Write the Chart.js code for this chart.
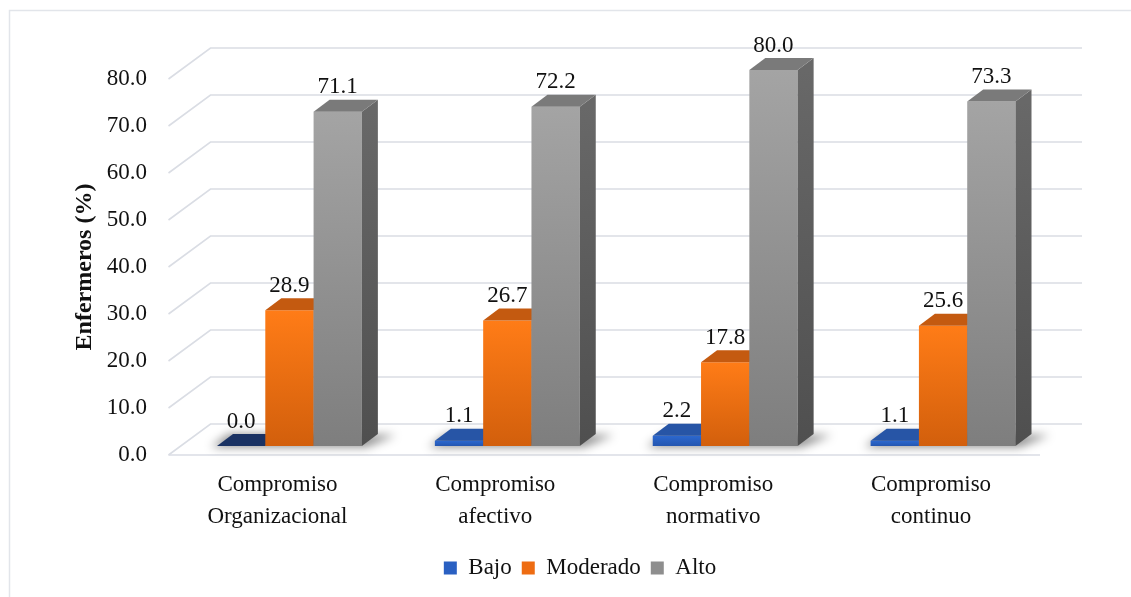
<!DOCTYPE html>
<html>
<head>
<meta charset="utf-8">
<script src="https://cdn.jsdelivr.net/npm/chart.js@4.4.1/dist/chart.umd.min.js"></script>
<style>
  html, body { margin: 0; padding: 0; background: #ffffff; }
  #wrap { width: 1131px; height: 597px; position: relative; }
</style>
</head>
<body>
<div id="wrap"><canvas id="c"></canvas></div>
<script>
// ---- data ----
const categories = [
  ["Compromiso", "Organizacional"],
  ["Compromiso", "afectivo"],
  ["Compromiso", "normativo"],
  ["Compromiso", "continuo"]
];
const seriesNames = ["Bajo", "Moderado", "Alto"];
const bajo = [0.0, 1.1, 2.2, 1.1];
const moderado = [28.9, 26.7, 17.8, 25.6];
const alto = [71.1, 72.2, 80.0, 73.3];
const yMin = 0, yMax = 80, yStep = 10;
const yTitle = "Enfermeros (%)";

// ---- styling ----
const FONT = '"Liberation Serif", "Times New Roman", serif';
const DEPTH_X = 16, DEPTH_Y = 12;          // bar depth in projection
const FRONT_DX = -12, FRONT_DY = 9;        // front plane relative to bar plane
const BACK_DX = 30, BACK_DY = -22;         // back wall relative to bar plane
const GRID = '#DADDE4';

const styles = [
  { top: '#2C68CF', bottom: '#2456B0', face: '#2755A6', zeroFace: '#1A3263', sideTop: '#1F4A90', sideBot: '#183A72', legend: '#2A60C2' },
  { top: '#FF7C17', bottom: '#D25F0C', face: '#C45A10', zeroFace: '#A84C0C', sideTop: '#B5520E', sideBot: '#8E400A', legend: '#EE6C12' },
  { top: '#A4A4A4', bottom: '#7E7E7E', face: '#7A7A7A', zeroFace: '#6A6A6A', sideTop: '#686868', sideBot: '#4F4F4F', legend: '#8E8E8E' }
];

function barGradient(i) {
  return function(ctx) {
    const chart = ctx.chart;
    const area = chart.chartArea;
    const ys = chart.scales && chart.scales.y;
    if (!area || !ys || ctx.raw === undefined) return styles[i].top;
    const yTop = ys.getPixelForValue(ctx.raw);
    const yBase = ys.getPixelForValue(0);
    if (Math.abs(yBase - yTop) < 1) return styles[i].bottom;
    const g = chart.ctx.createLinearGradient(0, yTop, 0, yBase);
    g.addColorStop(0, styles[i].top);
    g.addColorStop(1, styles[i].bottom);
    return g;
  };
}

function drawFaces(chart, i) {
  const st = styles[i];
  const c = chart.ctx;
  const meta = chart.getDatasetMeta(i);
  c.save();
  meta.data.forEach((bar) => {
    const p = bar.getProps(['x', 'y', 'base', 'width'], true);
    const x0 = p.x - p.width / 2, x1 = p.x + p.width / 2;
    const yt = p.y, yb = p.base;
    if (yb - yt > 0.5) {
      const g = c.createLinearGradient(0, yt, 0, yb);
      g.addColorStop(0, st.sideTop);
      g.addColorStop(1, st.sideBot);
      c.fillStyle = g;
      c.beginPath();
      c.moveTo(x1, yt);
      c.lineTo(x1 + DEPTH_X, yt - DEPTH_Y);
      c.lineTo(x1 + DEPTH_X, yb - DEPTH_Y);
      c.lineTo(x1, yb);
      c.closePath();
      c.fill();
    }
    c.fillStyle = (yb - yt > 0.5) ? st.face : st.zeroFace;
    c.beginPath();
    c.moveTo(x0, yt);
    c.lineTo(x1, yt);
    c.lineTo(x1 + DEPTH_X, yt - DEPTH_Y);
    c.lineTo(x0 + DEPTH_X, yt - DEPTH_Y);
    c.closePath();
    c.fill();
  });
  c.restore();
}

const threeD = {
  id: 'threeD',
  beforeDraw(chart) {
    const c = chart.ctx;
    c.save();
    c.strokeStyle = '#E2E5EA';
    c.lineWidth = 1.5;
    c.beginPath();
    c.moveTo(9.5, 700); c.lineTo(9.5, 10.5); c.lineTo(1200, 10.5);
    c.stroke();
    c.restore();
  },
  afterLayout(chart) {
    const lg = chart.legend;
    if (lg) { lg.left += 49.5; lg.right += 49.5; }
  },
  beforeDatasetsDraw(chart) {
    const c = chart.ctx;
    const ys = chart.scales.y;
    const a = chart.chartArea;
    const L = a.left, R = a.right;
    c.save();
    c.strokeStyle = GRID;
    c.lineWidth = 1.6;
    for (let v = yMin; v <= yMax; v += yStep) {
      const yp = ys.getPixelForValue(v);
      c.beginPath();
      c.moveTo(L + FRONT_DX, yp + FRONT_DY);
      c.lineTo(L + BACK_DX, yp + BACK_DY);
      c.lineTo(R + BACK_DX, yp + BACK_DY);
      c.stroke();
    }
    const base = ys.getPixelForValue(0);
    c.beginPath();
    c.moveTo(L + FRONT_DX, base + FRONT_DY);
    c.lineTo(R + FRONT_DX, base + FRONT_DY);
    c.stroke();

    // soft floor shadows under each group
    const metas = [0, 1, 2].map(i => chart.getDatasetMeta(i));
    const n = metas[0].data.length;
    c.filter = 'blur(5px)';
    c.fillStyle = 'rgba(0,0,0,0.45)';
    for (let k = 0; k < n; k++) {
      const b0 = metas[0].data[k].getProps(['x', 'width'], true);
      const b2 = metas[2].data[k].getProps(['x', 'width'], true);
      const gl = b0.x - b0.width / 2, gr = b2.x + b2.width / 2;
      c.beginPath();
      c.moveTo(gl - 6, base + 1);
      c.lineTo(gr + 4, base + 1);
      c.lineTo(gr + DEPTH_X + 18, base - DEPTH_Y + 1);
      c.lineTo(gl + DEPTH_X - 4, base - DEPTH_Y);
      c.closePath();
      c.fill();
    }
    c.filter = 'none';
    c.restore();
  },
  // skip default (reverse-order) drawing; draw datasets left-to-right ourselves
  beforeDatasetDraw() { return false; },
  afterDatasetsDraw(chart) {
    for (let i = 0; i < chart.data.datasets.length; i++) {
      chart.getDatasetMeta(i).controller.draw();
      drawFaces(chart, i);
    }
    const c = chart.ctx;
    c.save();
    c.font = '23px ' + FONT;
    c.fillStyle = '#111111';
    c.textAlign = 'center';
    c.textBaseline = 'middle';
    chart.data.datasets.forEach((ds, i) => {
      chart.getDatasetMeta(i).data.forEach((bar, k) => {
        const p = bar.getProps(['x', 'y'], true);
        c.fillText(ds.data[k].toFixed(1), p.x, p.y - 24.5);
      });
    });
    c.restore();
  }
};

Chart.defaults.font.family = FONT;
Chart.defaults.color = '#111111';

new Chart(document.getElementById('c'), {
  type: 'bar',
  data: {
    labels: categories,
    datasets: [
      { label: seriesNames[0], data: bajo, backgroundColor: barGradient(0) },
      { label: seriesNames[1], data: moderado, backgroundColor: barGradient(1) },
      { label: seriesNames[2], data: alto, backgroundColor: barGradient(2) }
    ]
  },
  options: {
    responsive: true,
    maintainAspectRatio: false,
    animation: false,
    layout: { padding: { left: 9, right: 79, top: 70, bottom: 7.5 } },
    datasets: { bar: { categoryPercentage: 0.665, barPercentage: 1.0, borderWidth: 0 } },
    scales: {
      x: {
        grid: { display: false, drawTicks: false },
        border: { display: false },
        ticks: { font: { size: 23, lineHeight: 1.4 }, color: '#111111', padding: 23, labelOffset: -12, maxRotation: 0, autoSkip: false },
        afterFit(s) { s.height = 100.5; }
      },
      y: {
        min: yMin, max: yMax,
        grid: { display: false, drawTicks: false },
        border: { display: false },
        ticks: { stepSize: yStep, font: { size: 23 }, color: '#111111', padding: 33.5, labelOffset: 9,
                 callback: v => Number(v).toFixed(1) },
        title: { display: true, text: yTitle + '   ', font: { size: 24, weight: 'bold' }, color: '#111111', padding: { top: 61.6, bottom: 0 } },
        afterFit(s) { s.width = 171.5; }
      }
    },
    plugins: {
      legend: {
        position: 'bottom',
        labels: {
          boxWidth: 13, boxHeight: 13, padding: 10,
          font: { size: 23 }, color: '#111111',
          generateLabels: (chart) => chart.data.datasets.map((ds, i) => ({
            text: ds.label, fillStyle: styles[i].legend, strokeStyle: styles[i].legend,
            lineWidth: 0, hidden: false, datasetIndex: i, fontColor: '#111111'
          }))
        }
      },
      tooltip: { enabled: false }
    }
  },
  plugins: [threeD]
});
</script>
</body>
</html>
